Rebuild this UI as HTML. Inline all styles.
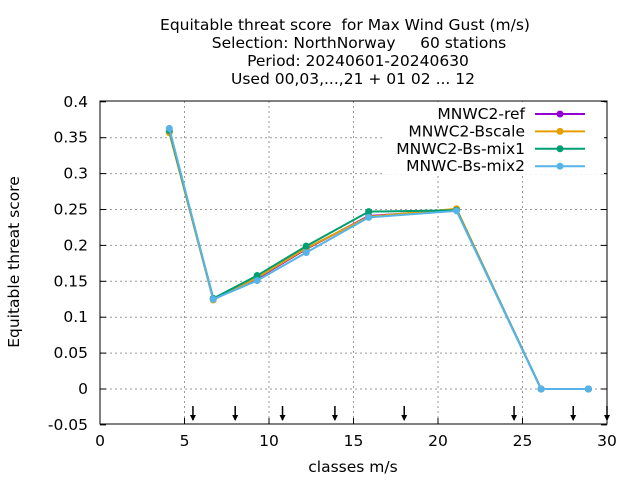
<!DOCTYPE html>
<html><head><meta charset="utf-8"><style>
body{margin:0;background:#fff}
svg text{font-family:"DejaVu Sans","Liberation Sans",sans-serif;font-size:15.5px;fill:#000;white-space:pre}
</style></head><body>
<svg id="chart" width="640" height="480" xmlns="http://www.w3.org/2000/svg">
<g text-anchor="middle">
<text x="345" y="30" xml:space="preserve">Equitable threat score  for Max Wind Gust (m/s)</text>
<text x="359" y="48" xml:space="preserve">Selection: NorthNorway     60 stations</text>
<text x="358" y="66">Period: 20240601-20240630</text>
<text x="353" y="84">Used 00,03,...,21 + 01 02 ... 12</text>
</g>
<g id="grid"></g>
<g id="axes"></g>
<rect x="382" y="102" width="222" height="72" fill="#fff"/>
<g id="series"></g>
<g id="legend"></g>
<rect x="100" y="101" width="507" height="323" fill="none" stroke="#000"/>
<text transform="translate(19,262) rotate(-90)" text-anchor="middle">Equitable threat score</text>
<text x="353" y="472" text-anchor="middle">classes m/s</text>
</svg>
<script>
const xVals=[4.1,6.7,9.3,12.2,15.9,21.1,26.1,28.9];
const seriesNames=["MNWC2-ref","MNWC2-Bscale","MNWC2-Bs-mix1","MNWC-Bs-mix2"];
const seriesColors=["#9400d3","#e69f00","#009e73","#56b4e9"];
const refVals=[0.358,0.126,0.154,0.195,0.241,0.249,0,0];
const bscaleVals=[0.357,0.124,0.155,0.196,0.240,0.251,0,0];
const mix1Vals=[0.360,0.126,0.158,0.199,0.247,0.249,0,0];
const mix2Vals=[0.363,0.125,0.151,0.190,0.239,0.248,0,0];
const xTicks=[0,5,10,15,20,25,30];
const yTicks=[-0.05,0,0.05,0.1,0.15,0.2,0.25,0.3,0.35,0.4];
const yTickLabels=["-0.05","0","0.05","0.1","0.15","0.2","0.25","0.3","0.35","0.4"];
const arrowX=[5.5,8,10.8,13.9,18,24.5,28,30];
const NS="http://www.w3.org/2000/svg";
const X=v=>100+v*507/30, Y=v=>389-v*718;
function mk(t,a,p){const e=document.createElementNS(NS,t);for(const k in a)e.setAttribute(k,a[k]);p.appendChild(e);return e;}
const grid=document.getElementById('grid'),axes=document.getElementById('axes');
xTicks.forEach(t=>{
 if(t>0&&t<30){const g=mk('line',{x1:X(t),x2:X(t),y1:101,y2:424,stroke:'#999','stroke-dasharray':'2,3'},grid);
 }
 const tk=mk('line',{x1:X(t),x2:X(t),y1:424,y2:418,stroke:'#000'},axes);
 
 const tl=mk('text',{x:X(t),y:446,'text-anchor':'middle'},axes);tl.textContent=t;
 
});
yTicks.forEach((t,i)=>{
 if(i>0&&i<yTicks.length-1){const g=mk('line',{x1:100,x2:607,y1:Y(t),y2:Y(t),stroke:'#999','stroke-dasharray':'2,3'},grid);
 }
 const tk=mk('line',{x1:100,x2:106,y1:Y(t),y2:Y(t),stroke:'#000'},axes);
 
 const tk2=mk('line',{x1:601,x2:607,y1:Y(t),y2:Y(t),stroke:'#000'},axes);
 
 const tl=mk('text',{x:88,y:Y(t)+5,'text-anchor':'end'},axes);tl.textContent=yTickLabels[i];
 
});
arrowX.forEach(a=>{
 const g=mk('g',{},axes);
 
 mk('line',{x1:X(a),x2:X(a),y1:406,y2:420,stroke:'#000','stroke-width':1.5},g);
 mk('path',{d:`M${X(a)-3},415 L${X(a)+3},415 L${X(a)},421 Z`,fill:'#000'},g);
});
const all=[refVals,bscaleVals,mix1Vals,mix2Vals];
const sg=document.getElementById('series'),lg=document.getElementById('legend');
all.forEach((vals,s)=>{
 const c=seriesColors[s];
 const g=mk('g',{},sg);
 
 mk('polyline',{points:vals.map((v,i)=>X(xVals[i])+','+Y(v)).join(' '),fill:'none',stroke:c,'stroke-width':2},g);
 vals.forEach((v,i)=>{const p=mk('circle',{cx:X(xVals[i]),cy:Y(v),r:3.5,fill:c},g);
  });
 const y=114+s*17.4;
 const le=mk('g',{},lg);
 
 const t=mk('text',{x:525,y:y+5,'text-anchor':'end'},le);t.textContent=seriesNames[s];
 mk('line',{x1:535,x2:585,y1:y,y2:y,stroke:c,'stroke-width':2},le);
 mk('circle',{cx:560,cy:y,r:3.5,fill:c},le);
});
</script>
</body></html>
